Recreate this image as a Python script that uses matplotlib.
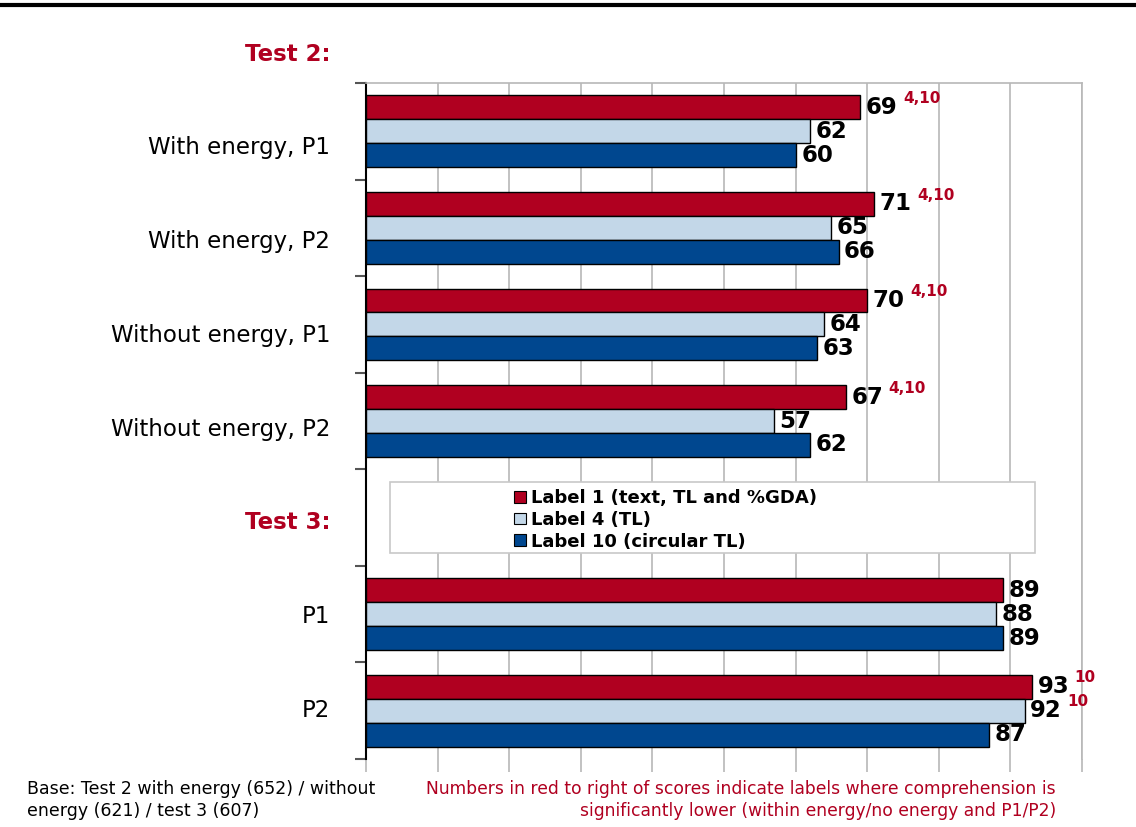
import numpy as np
import matplotlib
matplotlib.use("Agg")
import matplotlib.pyplot as plt
from matplotlib.patches import Rectangle, Patch
from matplotlib.lines import Line2D

# Comprehension scores (%) by label, per test / pack
categories = ["With energy, P1", "With energy, P2", "Without energy, P1",
              "Without energy, P2", "", "P1", "P2"]
series_names = ["Label 1 (text, TL and %GDA)", "Label 4 (TL)", "Label 10 (circular TL)"]
label1 = [69, 71, 70, 67, np.nan, 89, 93]
label4 = [62, 65, 64, 57, np.nan, 88, 92]
label10 = [60, 66, 63, 62, np.nan, 89, 87]
# Labels where comprehension is significantly lower
sig_label1 = ["4,10", "4,10", "4,10", "4,10", "", "", "10"]
sig_label4 = ["", "", "", "", "", "", "10"]
sig_label10 = ["", "", "", "", "", "", ""]
section_titles = ["Test 2:", "Test 3:"]
base_note = "Base: Test 2 with energy (652) / without\nenergy (621) / test 3 (607)"
sig_note = ("Numbers in red to right of scores indicate labels where comprehension is\n"
            "significantly lower (within energy/no energy and P1/P2)")

RED = "#b00020"
LIGHT = "#c3d7e8"
DARK = "#00478f"
colors = [RED, LIGHT, DARK]

fig = plt.figure(figsize=(11.36, 8.27), dpi=100)
ax = fig.add_axes([366 / 1136, 1 - 759 / 827, (1082 - 366) / 1136, (759 - 83) / 827])

y = np.arange(len(categories))
h = 0.248
values = [label1, label4, label10]
sigs = [sig_label1, sig_label4, sig_label10]
offsets = [-h, 0, h]

for vals, sig, col, off, name in zip(values, sigs, colors, offsets, series_names):
    v = np.array(vals, dtype=float)
    ax.barh(y + off, v, height=h, color=col, edgecolor="black", linewidth=1.0,
            zorder=3, label=name)
    for yi, val, s in zip(y, v, sig):
        if np.isnan(val):
            continue
        t = ax.annotate(f"{val:.0f}", xy=(val, yi + off), xytext=(4, 0),
                        textcoords="offset points", va="center", ha="left",
                        fontsize=16.5, fontweight="bold", color="black", zorder=5)
        if s:
            ax.annotate(s, xy=(1, 0.5), xycoords=t, xytext=(4, 1),
                        textcoords="offset points", va="bottom", ha="left",
                        fontsize=11, fontweight="bold", color=RED, zorder=5)

ax.set_xlim(0, 100)
ax.set_ylim(len(categories) - 0.5, -0.5)
ax.set_xticks(np.arange(0, 101, 10))
ax.tick_params(axis="x", which="major", length=9, color="#b8b8b8", width=1.2,
               labelbottom=False, direction="out")
ax.grid(axis="x", color="#b8b8b8", linewidth=1.2, zorder=0)

# Group boundaries as tick marks
ax.set_yticks(np.arange(-0.5, len(categories) + 0.5, 1.0))
ax.set_yticklabels([])
ax.tick_params(axis="y", which="major", length=8, width=1.5, color="#555555")

for side in ["top", "right"]:
    ax.spines[side].set_color("#b8b8b8")
    ax.spines[side].set_linewidth(1.2)
ax.spines["bottom"].set_visible(False)
ax.spines["left"].set_color("black")
ax.spines["left"].set_linewidth(1.5)

# Row captions run on their own slightly tighter pitch, headings included
row_start, row_pitch = 0.173, 0.970
ytr = ax.get_yaxis_transform()
for i, name in enumerate(categories):
    if name:
        ax.text(-0.05, row_start + row_pitch * i, name, transform=ytr,
                ha="right", va="center", fontsize=16.5, color="black")
for i, title in zip([-1, 4], section_titles):
    ax.text(-0.05, row_start + row_pitch * i, title, transform=ytr,
            ha="right", va="center", fontsize=16.5, fontweight="bold", color=RED)

# Legend inside a framed box in the empty slot
box_x0 = (390 - 366) / 716
box_x1 = (1035 - 366) / 716
box_y0 = (759 - 553) / 676
box_y1 = (759 - 482) / 676
ax.add_patch(Rectangle((box_x0, box_y0), box_x1 - box_x0, box_y1 - box_y0,
                       transform=ax.transAxes, facecolor="white",
                       edgecolor="#c8c8c8", linewidth=1.2, zorder=4))
handles = [Patch(facecolor=c, edgecolor="black", linewidth=0.8) for c in colors]
leg = ax.legend(handles, series_names, loc="upper left",
                bbox_to_anchor=((500 - 366) / 716, box_y1 + 0.0105),
                frameon=False, handlelength=0.62, handleheight=0.62,
                handletextpad=0.3, labelspacing=0.2, borderpad=0.3,
                prop={"weight": "bold", "size": 13})
leg.set_zorder(6)

# Footnotes
fig.text(27 / 1136, 1 - 780 / 827, base_note, ha="left", va="top",
         fontsize=12.5, color="black", linespacing=1.28)
fig.text(1056 / 1136, 1 - 780 / 827, sig_note, ha="right", va="top",
         fontsize=12.35, color=RED, linespacing=1.28, multialignment="right")

# Rule across the top of the page
fig.add_artist(Line2D([0, 1], [1 - 5 / 827, 1 - 5 / 827], color="black",
                      linewidth=3, transform=fig.transFigure))

fig.savefig("out.png", dpi=100)
